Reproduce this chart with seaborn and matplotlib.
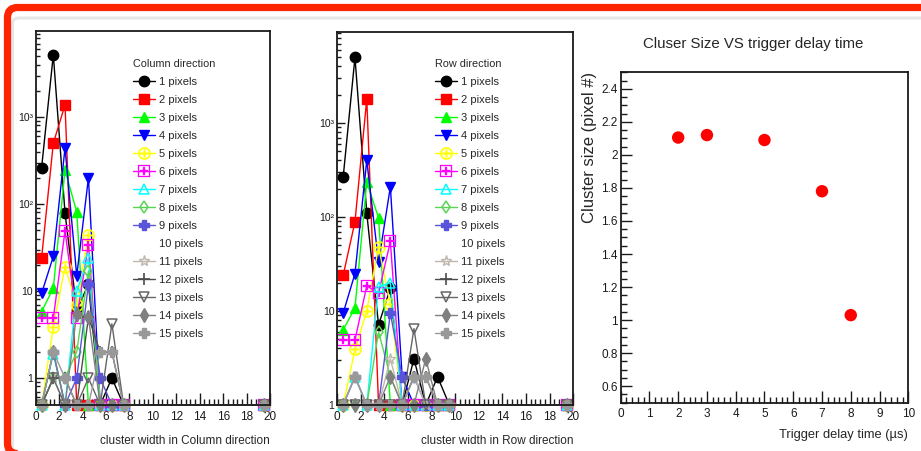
import numpy as np
import matplotlib
matplotlib.use("Agg")
import matplotlib.pyplot as plt
import matplotlib.ticker as mticker
import matplotlib.transforms as mtransforms
from matplotlib.patches import FancyBboxPatch
import seaborn as sns

# ---- data -------------------------------------------------------------
# bin centres of the cluster-width histograms
col_bins = [0.5, 1.5, 2.5, 3.5, 4.5, 5.5, 6.5, 7.5]
row_bins = [0.5, 1.5, 2.5, 3.5, 4.5, 5.5, 6.5, 7.5, 8.5, 9.5]
last_bin = 19.5

series_labels = ["1 pixels", "2 pixels", "3 pixels", "4 pixels", "5 pixels",
                 "6 pixels", "7 pixels", "8 pixels", "9 pixels", "10 pixels",
                 "11 pixels", "12 pixels", "13 pixels", "14 pixels", "15 pixels"]

# column-direction width counts, one list per cluster size (0 = empty bin)
col_1px = [260, 5200, 79, 6, 12, 0, 1, 0]
col_2px = [24, 500, 1380, 0, 0, 0, 0, 0]
col_3px = [5.8, 10.8, 245, 81, 0, 0, 0, 0]
col_4px = [9.4, 25, 440, 15, 200, 0, 0, 0]
col_5px = [0, 3.9, 19, 7, 44, 0, 0, 0]
col_6px = [4.9, 4.9, 49, 4.9, 34, 0, 0, 0]
col_7px = [0, 1.9, 0, 10, 24, 0, 0, 0]
col_8px = [0, 1, 1, 2, 17, 0, 0, 0]
col_9px = [0, 2, 0, 1, 12, 1, 0, 0]
col_10px = []
col_11px = [0, 1, 0, 0, 0, 0, 0, 0]
col_12px = [0, 1, 1, 0, 5, 2, 2, 0]
col_13px = [0, 1, 0, 0, 1, 0, 4.2, 0]
col_14px = [0, 2, 0, 5.5, 5, 0, 0, 0]
col_15px = [0, 2, 1, 0, 0, 2, 2, 0]

# row-direction width counts
row_1px = [265, 5000, 110, 7.1, 17.5, 0, 3.1, 1, 2.0, 0]
row_2px = [24, 89, 1800, 0, 1, 0, 0, 0, 0, 0]
row_3px = [6.3, 10.8, 235, 98, 1, 0, 0, 0, 0, 0]
row_4px = [9.5, 25, 400, 33, 210, 2, 0, 0, 0, 0]
row_5px = [0, 3.9, 10, 48, 12, 0, 0, 0, 0, 0]
row_6px = [4.9, 4.9, 18.5, 15.5, 55, 0, 0, 0, 0, 0]
row_7px = [0, 2, 0, 18, 20, 0, 0, 0, 0, 0]
row_8px = [0, 0, 0, 6, 2, 0, 0, 0, 0, 0]
row_9px = [0, 2, 0, 0, 9.5, 2, 2, 0, 0, 0]
row_10px = []
row_11px = [0, 2, 0, 0, 3.1, 0, 2, 0, 0, 0]
row_12px = [0, 0, 0, 0, 0, 0, 2, 2, 0, 0]
row_13px = [1, 1, 1, 0, 0, 0, 6.5, 0, 0, 0]
row_14px = [0, 0, 0, 0, 2, 0, 1, 3.1, 1, 0]
row_15px = [0, 2, 0, 0, 0, 0, 2, 2, 0, 0]

# mean cluster size vs trigger delay
delay_us = [2, 3, 5, 7, 8]
cluster_size = [2.105, 2.12, 2.09, 1.78, 1.03]

log_ticks = [1, 10, 100, 1000]
log_tick_labels = ["1", "10", "10²", "10³"]
width_ticks = [0, 2, 4, 6, 8, 10, 12, 14, 16, 18, 20]
delay_ticks = [0, 1, 2, 3, 4, 5, 6, 7, 8, 9, 10]
size_ticks = [0.6, 0.8, 1.0, 1.2, 1.4, 1.6, 1.8, 2.0, 2.2, 2.4]
size_tick_labels = ["0.6", "0.8", "1", "1.2", "1.4", "1.6", "1.8", "2", "2.2", "2.4"]

# ---- styles -----------------------------------------------------------
colors = ["#000000", "#ff0000", "#00ff00", "#0000ff", "#ffff00", "#ff00ff",
          "#00ffff", "#59d454", "#5954d9", "#ffffff", "#c0b6ac", "#4c4c4c",
          "#666666", "#7f7f7f", "#999999"]
markers = ["o", "s", "^", "v", r"$\oplus$", r"$\boxplus$", "^", "d", "P", "*",
           "*", "+", "v", "d", "P"]
filled = [True, True, True, True, True, True, False, False, True, True,
          False, True, False, True, True]
msizes = [7.5, 7, 7.5, 7.5, 9, 9, 7.5, 6, 7, 8, 8, 8, 7.5, 7, 7]
edge_w = [1.0, 1.0, 1.0, 1.0, 0.2, 0.2, 1.1, 1.1, 1.0, 1.0, 1.0, 1.2, 1.1, 1.0, 1.0]

sns.set_theme(style="white")
plt.rcParams["font.family"] = ["Liberation Sans Narrow", "Liberation Sans", "DejaVu Sans"]
plt.rcParams["axes.edgecolor"] = "#1a1a1a"
plt.rcParams["axes.linewidth"] = 1.3

fig = plt.figure(figsize=(9.21, 4.51), dpi=100)
fig.patch.set_facecolor("white")

ax_col = fig.add_axes([0.0388, 0.1020, 0.2544, 0.8293])
ax_row = fig.add_axes([0.3662, 0.1020, 0.2562, 0.8270])
ax_dt = fig.add_axes([0.6739, 0.1071, 0.3123, 0.7326])


def style_ticks(ax, xlen, ylen, xsize, ysize):
    ax.tick_params(which="both", direction="in", bottom=True, left=True,
                   top=False, right=False, width=1.0, colors="#1a1a1a")
    ax.tick_params(axis="x", which="major", length=xlen, labelsize=xsize, pad=4)
    ax.tick_params(axis="x", which="minor", length=xlen / 2)
    ax.tick_params(axis="y", which="major", length=ylen, labelsize=ysize, pad=2)
    ax.tick_params(axis="y", which="minor", length=ylen / 2)


def draw_width_panel(ax, bins, series, floor, top, title, xlabel, leg_anchor):
    ax.set_yscale("log")
    for counts, label, color, mk, fl, ms, ew in zip(series, series_labels, colors,
                                                     markers, filled, msizes, edge_w):
        style = dict(color=color, marker=mk, markersize=ms,
                     markerfacecolor=color if fl else "none",
                     markeredgecolor=color, markeredgewidth=ew,
                     linewidth=1.0, clip_on=False, label=label)
        if len(counts) == 0:
            ax.plot([], [], **style)
            continue
        x = list(bins[:len(counts)]) + [last_bin]
        y = [c if c > floor else floor for c in counts] + [floor]
        sns.lineplot(x=x, y=y, ax=ax, estimator=None, sort=False, **style)
    ax.set_xlim(0, 20)
    ax.set_ylim(floor, top)
    ax.set_xticks(width_ticks)
    ax.xaxis.set_minor_locator(mticker.MultipleLocator(0.4))
    ax.set_yticks(log_ticks)
    ax.set_yticklabels(log_tick_labels)
    ax.yaxis.set_minor_locator(mticker.LogLocator(base=10, subs=np.arange(2, 10)))
    ax.yaxis.set_minor_formatter(mticker.NullFormatter())
    style_ticks(ax, 9, 6, 8.5, 7.5)
    ax.set_xlabel(xlabel, fontsize=8.5, ha="right", va="center")
    ax.xaxis.set_label_coords(1.0, -0.097)
    ax.set_ylabel("")
    handles, labels = ax.get_legend_handles_labels()
    ax.legend(handles, labels, title=title, loc="upper left",
              bbox_to_anchor=leg_anchor, frameon=False, fontsize=8,
              title_fontsize=7.8, handlelength=1.9, handletextpad=0.4,
              labelspacing=0.72, borderpad=0, borderaxespad=0,
              alignment="left")


col_series = [col_1px, col_2px, col_3px, col_4px, col_5px, col_6px, col_7px,
              col_8px, col_9px, col_10px, col_11px, col_12px, col_13px,
              col_14px, col_15px]
row_series = [row_1px, row_2px, row_3px, row_4px, row_5px, row_6px, row_7px,
              row_8px, row_9px, row_10px, row_11px, row_12px, row_13px,
              row_14px, row_15px]

draw_width_panel(ax_col, col_bins, col_series, 0.49, 9750, "Column direction",
                 "cluster width in Column direction", (0.417, 0.925))
draw_width_panel(ax_row, row_bins, row_series, 1.0, 9300, "Row direction",
                 "cluster width in Row direction", (0.416, 0.928))

# ---- cluster size vs trigger delay -----------------------------------
sns.scatterplot(x=delay_us, y=cluster_size, ax=ax_dt, color="#ff0000", s=80,
                edgecolor="none", clip_on=False)
ax_dt.set_xlim(0, 10)
ax_dt.set_ylim(0.5, 2.5)
ax_dt.set_xticks(delay_ticks)
ax_dt.set_yticks(size_ticks)
ax_dt.set_yticklabels(size_tick_labels)
ax_dt.xaxis.set_minor_locator(mticker.MultipleLocator(0.2))
ax_dt.yaxis.set_minor_locator(mticker.MultipleLocator(0.05))
style_ticks(ax_dt, 9, 8, 8.5, 8.5)
ax_dt.set_xlabel("Trigger delay time (µs)", fontsize=9.3, ha="right", va="center")
ax_dt.xaxis.set_label_coords(1.0, -0.098)
ax_dt.set_ylabel("")

fig.text(753 / 921, 1 - 44 / 451, "Cluser Size VS trigger delay time",
         ha="center", va="center", fontsize=10.8)
fig.text(589.5 / 921, 1 - 72 / 451, "Cluster size (pixel #)", rotation=90,
         ha="center", va="top", fontsize=12,
         family=["Liberation Sans", "DejaVu Sans"])

# ---- slide frame --------------------------------------------------------
ident = mtransforms.IdentityTransform()
fig.add_artist(FancyBboxPatch((12.5, -6), 930, 449.5 - 12.5 + 6 - 4,
                              boxstyle="round,pad=0,rounding_size=6",
                              facecolor="none", edgecolor="#e6e6e6",
                              linewidth=2.2, transform=ident))
fig.add_artist(FancyBboxPatch((7.5, -2.5), 940, 443.5 + 2.5,
                              boxstyle="round,pad=0,rounding_size=10",
                              facecolor="none", edgecolor="#ff2400",
                              linewidth=5.2, transform=ident))

fig.savefig("out.png", dpi=100)
